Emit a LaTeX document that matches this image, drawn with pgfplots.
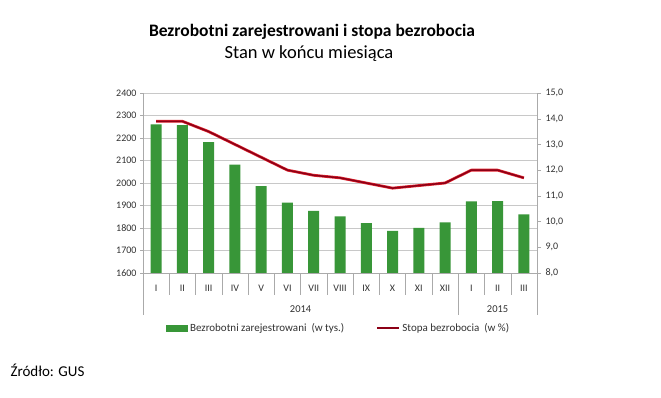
\documentclass[border=0pt]{standalone}
\usepackage{pgfplots}
\pgfplotsset{compat=1.18}
\usepackage{fontspec}
\setmainfont{Carlito}
\definecolor{barg}{RGB}{56,150,56}
\definecolor{lred}{RGB}{225,35,45}
\definecolor{dred}{RGB}{140,0,22}
\definecolor{txt}{RGB}{50,50,50}
\definecolor{gridc}{RGB}{200,200,200}
\definecolor{axc}{RGB}{170,170,170}
\begin{document}
\begin{tikzpicture}[x=1pt,y=1pt]
\path[use as bounding box] (0,0) rectangle (661,398);
\fill[white] (0,0) rectangle (661,398);
\node[font=\bfseries\fontsize{17.5}{19}\selectfont, text=black] at (312,366) {Bezrobotni zarejestrowani i stopa bezrobocia};
\node[font=\fontsize{18.5}{20}\selectfont, text=black] at (309,344) {Stan w końcu miesiąca};
\node[font=\fontsize{15}{17}\selectfont, text=black, anchor=west] at (7,28) {Źródło: GUS};
\begin{axis}[
  scale only axis, width=394pt, height=180pt,
  at={(143pt,125pt)}, anchor=south west,
  ybar, bar width=11pt,
  xmin=-0.5, xmax=14.5, ymin=1600, ymax=2400,
  ytick={1600,1700,...,2400},
  xtick={0,...,14},
  xticklabels={I,II,III,IV,V,VI,VII,VIII,IX,X,XI,XII,I,II,III},
  xtick style={draw=none},
  ytick style={draw=axc, thin},
  extra x ticks={0.5,1.5,...,10.5,12.5,13.5},
  extra x tick labels={},
  extra x tick style={major tick length=22pt, tick align=outside, xtick style={draw=axc, thin}},
  axis x line*=bottom, axis y line*=left,
  axis line style={axc, thin},
  x axis line style={-}, y axis line style={-},
  major tick length=3pt, tick align=outside,
  ymajorgrids, grid style={gridc, thin},
  tick label style={font=\fontsize{10}{12}\selectfont, text=txt},
  xticklabel style={yshift=-5.5pt},
  /pgf/number format/assume math mode=true,
  yticklabel style={/pgf/number format/1000 sep={}},
  legend style={at={(axis description cs:0.058,-0.306)}, anchor=west, draw=none, fill=none,
    legend columns=2, font=\fontsize{11}{13}\selectfont, text=txt,
    /tikz/every even column/.append style={column sep=30pt},
    inner sep=0pt},
  legend cell align=left,
  clip=false,
]
\addplot[fill=barg, draw=none, area legend,
  legend image code/.code={\fill[barg] (0pt,-3.5pt) rectangle (22pt,3.5pt);}]
  coordinates {(0,2260.7) (1,2256.8) (2,2182.2) (3,2081.7) (4,1986) (5,1912.5) (6,1875.9) (7,1852.2) (8,1821.2) (9,1786.8) (10,1800.3) (11,1825.2) (12,1918.6) (13,1919.0) (14,1861.1)};
\addlegendentry{Bezrobotni zarejestrowani\ \ (w tys.)}
\addlegendimage{legend image code/.code={\draw[dred, line width=2.2pt] (0pt,0pt) -- (22pt,0pt);}}
\addlegendentry{Stopa bezrobocia\ \ (w \%)}
\node[font=\fontsize{10.5}{12}\selectfont, text=txt] at (axis cs:5.5,1440) {2014};
\node[font=\fontsize{10.5}{12}\selectfont, text=txt] at (axis cs:13,1440) {2015};
\end{axis}
\begin{axis}[
  scale only axis, width=394pt, height=180pt,
  at={(143pt,125pt)}, anchor=south west,
  xmin=-0.5, xmax=14.5, ymin=8, ymax=15,
  ytick={8,9,...,15},
  axis y line*=right, axis x line*=bottom,
  xtick=\empty,
  extra x ticks={-0.5,11.5,14.5},
  extra x tick labels={},
  extra x tick style={major tick length=42pt, tick align=outside, tick style={axc, thin}},
  axis line style={axc, thin},
  x axis line style={-}, y axis line style={-},
  ytick style={axc, thin}, major tick length=4pt, tick align=outside,
  tick label style={font=\fontsize{10}{12}\selectfont, text=txt},
  yticklabel style={xshift=1pt},
  /pgf/number format/assume math mode=true,
  y tick label style={/pgf/number format/.cd, fixed, fixed zerofill, precision=1, use comma},
  clip=false,
]
\addplot[draw=lred, line width=2.8pt, line join=round,
  postaction={draw=dred, line width=1.5pt}]
  coordinates {(0,13.9) (1,13.9) (2,13.5) (3,13.0) (4,12.5) (5,12.0) (6,11.8) (7,11.7) (8,11.5) (9,11.3) (10,11.4) (11,11.5) (12,12.0) (13,12.0) (14,11.7)};
\end{axis}
\end{tikzpicture}
\end{document}
